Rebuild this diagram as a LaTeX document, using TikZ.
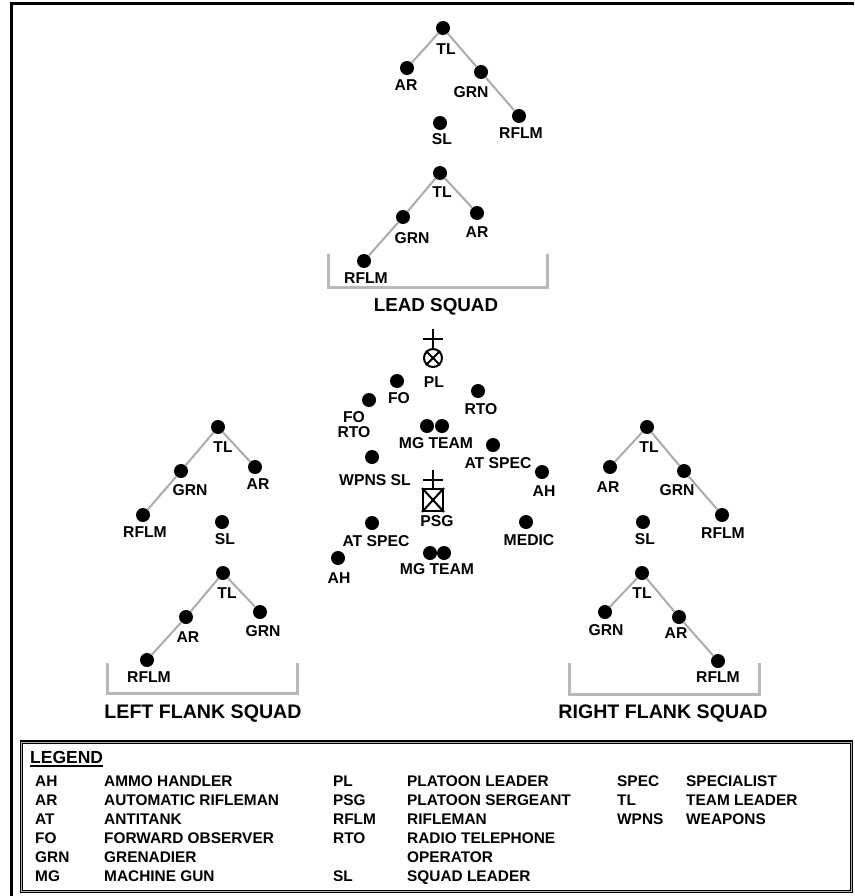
\documentclass[tikz,border=0pt]{standalone}
\usepackage{fontspec}
\setmainfont{Liberation Sans}
\newcommand\lblf{\fontsize{15.7}{18}\selectfont\bfseries}
\newcommand\tightf{\fontsize{15.7}{15}\selectfont\bfseries}
\newcommand\lgf{\fontsize{15.4}{18}\selectfont\bfseries}
\newcommand\ttlf{\fontsize{18.8}{22}\selectfont\bfseries}
\newcommand\ttlff{\fontsize{19.6}{22}\selectfont\bfseries}
\newcommand\lgdf{\fontsize{17.5}{21}\selectfont\bfseries}
\definecolor{linegray}{RGB}{172,172,172}
\definecolor{brgray}{RGB}{185,185,185}
\newcommand\soldierat[6]{\node[dot] (#1) at (#2,#3) {}; \node[lbl] (#1l) at (#5,#6) {#4};}
\begin{document}
\begin{tikzpicture}[x=1pt,y=-1pt,
  dot/.style={circle,fill=black,inner sep=0pt,minimum size=14pt},
  lbl/.style={font=\lblf,inner sep=0pt,text height=11.2pt,text depth=0pt},
  ttl/.style={font=\ttlf,inner sep=0pt,text height=13.5pt,text depth=0pt},
  ttlb/.style={font=\ttlff,inner sep=0pt,text height=14pt,text depth=0pt},
  lg/.style={font=\lgf,inner sep=0pt,text height=11pt,text depth=0pt,anchor=west},
  link/.style={draw=linegray,line width=2pt},
  bracket/.style={draw=brgray,line width=3pt},
  sym/.style={draw=black,line width=2pt},
  frame/.style={draw=black,line width=3pt}]
\useasboundingbox (0,0) rectangle (854,896);
\fill[white] (0,0) rectangle (854,896);
% outer frame
\coordinate (fbl) at (11,896);
\coordinate (ftl) at (11,4);
\coordinate (ftr) at (854,4);
\draw[frame] (fbl) -- (ftl) -- (ftr);

% ===== LEAD SQUAD =====
\soldierat{lTL}{443}{28}{TL}{446}{49}
\soldierat{lAR}{407}{68}{AR}{406}{85}
\soldierat{lGRN}{481}{72}{GRN}{471}{92}
\soldierat{lRF}{519}{116}{RFLM}{521}{133}
\soldierat{lSL}{440}{123}{SL}{442}{139}
\soldierat{lTL2}{440}{173}{TL}{442}{192}
\soldierat{lGRN2}{403}{217}{GRN}{412}{238}
\soldierat{lAR2}{477}{213}{AR}{477}{232}
\soldierat{lRF2}{364}{261}{RFLM}{366}{278}
\draw[link] (lTL) -- (lAR);
\draw[link] (lTL) -- (lGRN);
\draw[link] (lGRN) -- (lRF);
\draw[link] (lTL2) -- (lGRN2);
\draw[link] (lGRN2) -- (lRF2);
\draw[link] (lTL2) -- (lAR2);
\coordinate (lb1) at (328,254);
\coordinate (lb2) at (328,287);
\coordinate (lb3) at (547,287);
\coordinate (lb4) at (547,254);
\draw[bracket] (lb1) -- (lb2) -- (lb3) -- (lb4);
\node[ttl] (leadt) at (436,305) {LEAD SQUAD};

% ===== PLATOON HQ =====
\node[circle,sym,minimum size=18pt,inner sep=0pt] (pl) at (433,358) {};
\draw[sym] (pl.north west) -- (pl.south east);
\draw[sym] (pl.north east) -- (pl.south west);
\coordinate (pltop) at (433,329);
\coordinate (plbl) at (423,339);
\coordinate (plbr) at (443,339);
\draw[sym] (pl.north) -- (pltop);
\draw[sym] (plbl) -- (plbr);
\node[lbl] (pll) at (434,382) {PL};

\soldierat{fo}{397}{381}{FO}{399}{398}
\node[dot] (fort) at (369,400) {};
\node[font=\tightf,align=center,inner sep=0pt] (fortl) at (354,424.5) {FO\\RTO};
\soldierat{rto}{478}{391}{RTO}{481}{409}
\node[dot] (mg1a) at (427,426) {};
\node[dot] (mg1b) at (442,426) {};
\node[lbl] (mg1l) at (436,443) {MG TEAM};
\soldierat{atr}{493}{445}{AT SPEC}{498}{463}
\soldierat{ahr}{542}{472}{AH}{544}{491}
\soldierat{wsl}{372}{457}{WPNS SL}{375}{480}

\node[rectangle,sym,minimum width=20pt,minimum height=22pt,inner sep=0pt] (psg) at (433,500) {};
\draw[sym] (psg.north west) -- (psg.south east);
\draw[sym] (psg.north east) -- (psg.south west);
\coordinate (psgtop) at (433,470);
\coordinate (psgbl) at (423,480);
\coordinate (psgbr) at (443,480);
\draw[sym] (psg.north) -- (psgtop);
\draw[sym] (psgbl) -- (psgbr);
\node[lbl] (psgl) at (437,521) {PSG};

\soldierat{med}{526}{522}{MEDIC}{529}{540}
\soldierat{atl}{372}{523}{AT SPEC}{376}{541}
\soldierat{ahl}{338}{558}{AH}{339}{578}
\node[dot] (mg2a) at (430,553) {};
\node[dot] (mg2b) at (444,553) {};
\node[lbl] (mg2l) at (437,569) {MG TEAM};

% ===== LEFT FLANK SQUAD =====
\soldierat{fTL}{218}{427}{TL}{223}{447}
\soldierat{fGRN}{181}{471}{GRN}{190}{490}
\soldierat{fAR}{255}{467}{AR}{258}{484}
\soldierat{fRF}{143}{515}{RFLM}{145}{532}
\soldierat{fSL}{222}{522}{SL}{225}{539}
\soldierat{fTL2}{223}{573}{TL}{227}{593}
\soldierat{fAR2}{186}{617}{AR}{188}{637}
\soldierat{fGRN2}{260}{612}{GRN}{263}{631}
\soldierat{fRF2}{147}{660}{RFLM}{149}{677}
\draw[link] (fTL) -- (fGRN);
\draw[link] (fGRN) -- (fRF);
\draw[link] (fTL) -- (fAR);
\draw[link] (fTL2) -- (fAR2);
\draw[link] (fAR2) -- (fRF2);
\draw[link] (fTL2) -- (fGRN2);
\coordinate (fb1) at (107,663);
\coordinate (fb2) at (107,693);
\coordinate (fb3) at (297,693);
\coordinate (fb4) at (297,663);
\draw[bracket] (fb1) -- (fb2) -- (fb3) -- (fb4);
\node[ttlb] (leftt) at (203,711) {LEFT FLANK SQUAD};

% ===== RIGHT FLANK SQUAD =====
\soldierat{rTL}{647}{427}{TL}{649}{447}
\soldierat{rAR}{610}{467}{AR}{608}{487}
\soldierat{rGRN}{684}{471}{GRN}{677}{490}
\soldierat{rRF}{722}{515}{RFLM}{723}{533}
\soldierat{rSL}{643}{522}{SL}{645}{539}
\soldierat{rTL2}{642}{573}{TL}{642}{593}
\soldierat{rGRN2}{605}{612}{GRN}{606}{630}
\soldierat{rAR2}{679}{617}{AR}{676}{633}
\soldierat{rRF2}{718}{661}{RFLM}{718}{677}
\draw[link] (rTL) -- (rAR);
\draw[link] (rTL) -- (rGRN);
\draw[link] (rGRN) -- (rRF);
\draw[link] (rTL2) -- (rGRN2);
\draw[link] (rTL2) -- (rAR2);
\draw[link] (rAR2) -- (rRF2);
\coordinate (rb1) at (569,663);
\coordinate (rb2) at (569,694);
\coordinate (rb3) at (759,694);
\coordinate (rb4) at (759,663);
\draw[bracket] (rb1) -- (rb2) -- (rb3) -- (rb4);
\node[ttlb] (rightt) at (663,711) {RIGHT FLANK SQUAD};

% ===== LEGEND =====
\draw[line width=1.3pt,double=gray!60,double distance=0.9pt] (21.5,742) rectangle (851.5,891.5);
\node[font=\lgdf,inner sep=0pt,text height=12.5pt,text depth=0pt,anchor=west] (lgd) at (30,757) {LEGEND};
\draw[line width=1.5pt] ([yshift=-2.5pt]lgd.south west) -- ([yshift=-2.5pt]lgd.south east);

\node[lg] (a1) at (35,780.5) {AH};   \node[lg] (d1) at (104,780.5) {AMMO HANDLER};
\node[lg] (a2) at (35,799.5) {AR};   \node[lg] (d2) at (104,799.5) {AUTOMATIC RIFLEMAN};
\node[lg] (a3) at (35,818.5) {AT};   \node[lg] (d3) at (104,818.5) {ANTITANK};
\node[lg] (a4) at (35,837.5) {FO};   \node[lg] (d4) at (104,837.5) {FORWARD OBSERVER};
\node[lg] (a5) at (35,856.5) {GRN};  \node[lg] (d5) at (104,856.5) {GRENADIER};
\node[lg] (a6) at (35,875.5) {MG};   \node[lg] (d6) at (104,875.5) {MACHINE GUN};

\node[lg] (b1) at (333,780.5) {PL};   \node[lg] (e1) at (407,780.5) {PLATOON LEADER};
\node[lg] (b2) at (333,799.5) {PSG};  \node[lg] (e2) at (407,799.5) {PLATOON SERGEANT};
\node[lg] (b3) at (333,818.5) {RFLM}; \node[lg] (e3) at (407,818.5) {RIFLEMAN};
\node[lg] (b4) at (333,837.5) {RTO};  \node[lg] (e4) at (407,837.5) {RADIO TELEPHONE};
\node[lg] (e5) at (407,856.5) {OPERATOR};
\node[lg] (b6) at (333,875.5) {SL};   \node[lg] (e6) at (407,875.5) {SQUAD LEADER};

\node[lg] (c1) at (617,780.5) {SPEC}; \node[lg] (g1) at (686,780.5) {SPECIALIST};
\node[lg] (c2) at (617,799.5) {TL};   \node[lg] (g2) at (686,799.5) {TEAM LEADER};
\node[lg] (c3) at (617,818.5) {WPNS}; \node[lg] (g3) at (686,818.5) {WEAPONS};
\end{tikzpicture}
\end{document}
